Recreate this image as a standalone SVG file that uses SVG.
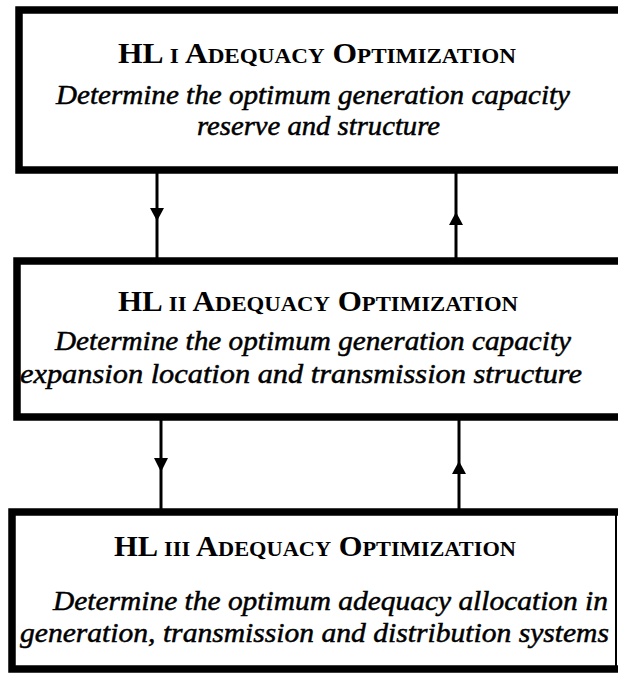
<svg xmlns="http://www.w3.org/2000/svg" width="618" height="674" viewBox="0 0 618 674">
<defs>
<style>
.box{fill:#fff;stroke:#000;stroke-width:7.5}
.title{font-family:"Liberation Serif","Times New Roman",serif;font-weight:bold;font-size:30px;fill:#000}
.sc{font-size:22px}
.desc{font-family:"Liberation Serif","Times New Roman",serif;font-style:italic;font-size:28px;fill:#000;stroke:#000;stroke-width:0.5}
.line{stroke:#000;stroke-width:3;fill:none}
.head{fill:#000}
</style>
</defs>
<rect width="618" height="674" fill="#fff"/>
<g id="hl1">
<rect class="box" x="19" y="10" width="640" height="160"/>
<text class="title" x="118" y="63" textLength="398" lengthAdjust="spacingAndGlyphs">HL <tspan class="sc">I</tspan> A<tspan class="sc">DEQUACY</tspan> O<tspan class="sc">PTIMIZATION</tspan></text>
<text class="desc" x="56" y="104" textLength="514" lengthAdjust="spacingAndGlyphs">Determine the optimum generation capacity</text>
<text class="desc" x="197" y="135" textLength="243" lengthAdjust="spacingAndGlyphs">reserve and structure</text>
</g>
<g id="hl2">
<rect class="box" x="17" y="261" width="640" height="156"/>
<text class="title" x="118" y="311" textLength="400" lengthAdjust="spacingAndGlyphs">HL <tspan class="sc">II</tspan> A<tspan class="sc">DEQUACY</tspan> O<tspan class="sc">PTIMIZATION</tspan></text>
<text class="desc" x="55" y="350" textLength="516" lengthAdjust="spacingAndGlyphs">Determine the optimum generation capacity</text>
<text class="desc" x="20" y="383" textLength="562" lengthAdjust="spacingAndGlyphs">expansion location and transmission structure</text>
</g>
<g id="hl3">
<rect class="box" x="12" y="512" width="640" height="157"/>
<line x1="616" y1="512" x2="616" y2="669" stroke="#000" stroke-width="2"/>
<text class="title" x="114" y="556" textLength="402" lengthAdjust="spacingAndGlyphs">HL <tspan class="sc">III</tspan> A<tspan class="sc">DEQUACY</tspan> O<tspan class="sc">PTIMIZATION</tspan></text>
<text class="desc" x="53" y="610" textLength="555" lengthAdjust="spacingAndGlyphs">Determine the optimum adequacy allocation in</text>
<text class="desc" x="20" y="642" textLength="589" lengthAdjust="spacingAndGlyphs">generation, transmission and distribution systems</text>
</g>
<g id="connectors">
<line class="line" x1="157" y1="173" x2="157" y2="258"/>
<polygon class="head" points="150,208 164,208 157,221"/>
<line class="line" x1="456" y1="173" x2="456" y2="258"/>
<polygon class="head" points="449,225 463,225 456,212"/>
<line class="line" x1="161" y1="420" x2="161" y2="509"/>
<polygon class="head" points="154,458 168,458 161,472"/>
<line class="line" x1="459" y1="420" x2="459" y2="509"/>
<polygon class="head" points="452,474 466,474 459,461"/>
</g>
</svg>
